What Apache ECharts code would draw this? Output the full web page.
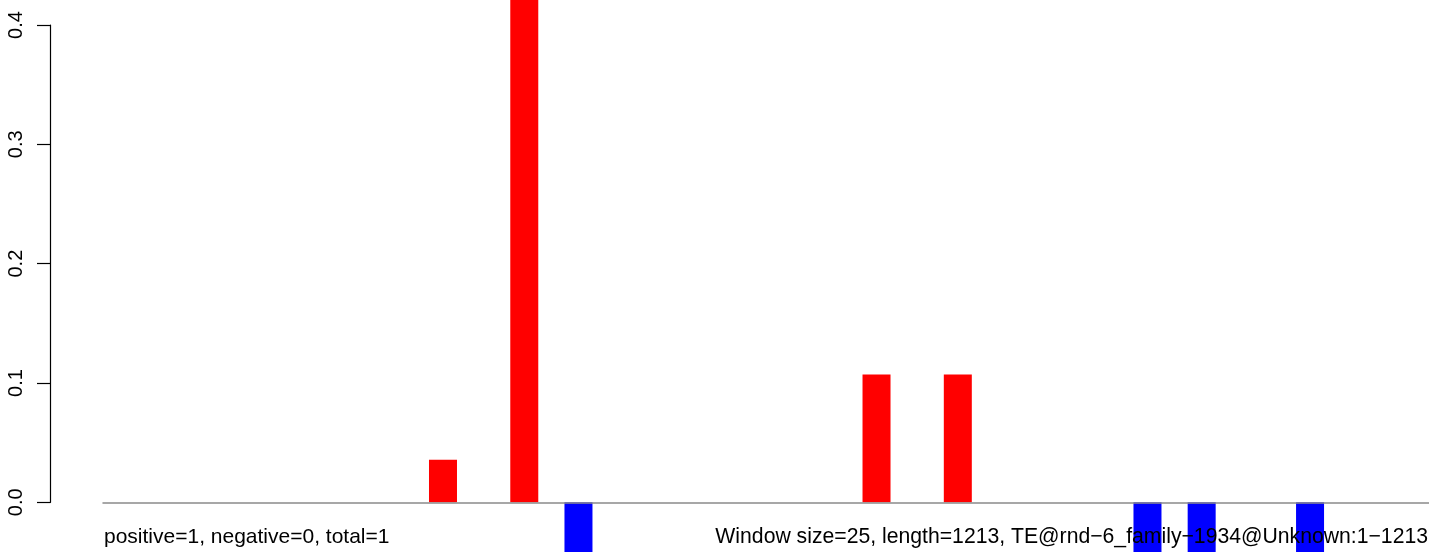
<!DOCTYPE html>
<html>
<head>
<meta charset="utf-8">
<script src="https://cdn.jsdelivr.net/npm/echarts@6/dist/echarts.min.js"></script>
<style>
html,body{margin:0;padding:0;background:#fff;}
#chart{width:1429px;height:552px;}
</style>
</head>
<body>
<div id="chart"></div>
<script>
// 49 windows of size 25 along a 1213-long sequence
const windows = Array.from({length: 49}, (_, i) => i + 1);
// per-window score (positive = red, negative = blue)
const values = [
  0, 0, 0, 0, 0, 0, 0, 0, 0, 0,
  0, 0, 0.0357, 0, 0, 0.4643, 0, -0.0714, 0, 0,
  0, 0, 0, 0, 0, 0, 0, 0, 0.1071, 0,
  0, 0.1071, 0, 0, 0, 0, 0, 0, -0.0714, 0,
  -0.0714, 0, 0, 0, -0.0714, 0, 0, 0, 0
];
const yTicks = [0, 0.1, 0.2, 0.3, 0.4];
const leftNote = 'positive=1, negative=0, total=1';
const rightNote = 'Window size=25, length=1213, TE@rnd\u22126_family\u22121934@Unknown:1\u22121213';

const FONT = 'Liberation Sans, Arial, Helvetica, sans-serif';
const Y_MIN = -0.04166, Y_MAX = 0.4210;
// visible part of the window axis (the last window runs past the right edge)
const X_MIN = 0, X_MAX = 48.89;
const barData = windows.map((w, i) => [w - 0.5, values[i]]);

const chart = echarts.init(document.getElementById('chart'), null, {renderer: 'canvas'});
chart.setOption({
  animation: false,
  backgroundColor: '#ffffff',
  grid: [
    {left: 104.3, right: 0, top: 0, bottom: 0, containLabel: false},
    {left: 50.5, width: 1, top: 25, bottom: 49.7, containLabel: false},
    {left: 103, right: 0, top: 0, bottom: 0, containLabel: false}
  ],
  xAxis: [
    {
      gridIndex: 0, type: 'value', min: X_MIN, max: X_MAX,
      axisLine: {show: false}, axisTick: {show: false}, axisLabel: {show: false}, splitLine: {show: false}
    },
    {gridIndex: 1, type: 'value', show: false},
    {
      gridIndex: 2, type: 'value', min: 0, max: 1, z: 5,
      axisLine: {show: true, onZero: true, lineStyle: {color: '#8a8a8a', width: 1.5}},
      axisTick: {show: false}, axisLabel: {show: false}, splitLine: {show: false}
    }
  ],
  yAxis: [
    {gridIndex: 0, type: 'value', min: Y_MIN, max: Y_MAX, show: false},
    {
      gridIndex: 1, type: 'value', min: yTicks[0], max: yTicks[yTicks.length - 1], interval: 0.1,
      axisLine: {show: true, lineStyle: {color: '#000', width: 1.2}},
      axisTick: {show: true, inside: false, length: 13.5, lineStyle: {color: '#000', width: 1.2}},
      splitLine: {show: false},
      axisLabel: {
        show: true, rotate: 90, margin: 24, color: '#000',
        fontFamily: FONT, fontSize: 20,
        align: 'center', verticalAlign: 'bottom',
        formatter: v => v.toFixed(1)
      }
    },
    {gridIndex: 2, type: 'value', min: Y_MIN, max: Y_MAX, show: false}
  ],
  series: [{
    type: 'bar', xAxisIndex: 0, yAxisIndex: 0,
    data: barData,
    barWidth: 28,
    clip: true,
    itemStyle: {color: p => (p.value[1] >= 0 ? '#ff0000' : '#0000ff')}
  }],
  graphic: [
    {type: 'text', left: 104, top: 526.5, z: 100,
     style: {text: leftNote, fill: '#000', font: '21px ' + FONT}},
    {type: 'text', right: 1, top: 526.3, z: 100,
     style: {text: rightNote, fill: '#000', font: '21.2px ' + FONT}}
  ]
});
</script>
</body>
</html>
